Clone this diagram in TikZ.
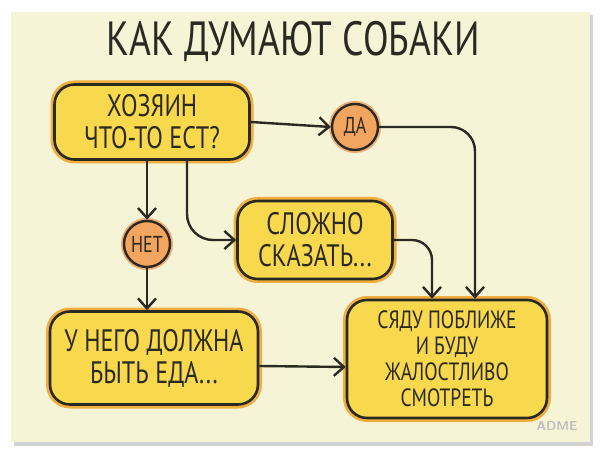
\documentclass[tikz,border=0pt]{standalone}
\usepackage{fontspec}
\newfontfamily\hand[FakeStretch=0.78]{PT Sans}
\usetikzlibrary{arrows.meta}

\definecolor{paper}{HTML}{F6F4D6}
\definecolor{ink}{HTML}{2B2A22}
\definecolor{boxfill}{HTML}{F8D84C}
\definecolor{boxglow}{HTML}{F0AE3E}
\definecolor{ballfill}{HTML}{F2A55E}
\definecolor{ballglow}{HTML}{E8863C}

\tikzstyle{box} = [draw=ink, line width=2.6pt, rounded corners=20pt, fill=boxfill,
	preaction={draw=boxglow, line width=8pt}, align=center, font=\hand\fontsize{31}{32}\selectfont, text=ink]
\tikzstyle{ball} = [circle, draw=ink, line width=2.4pt, fill=ballfill, minimum size=46pt, inner sep=0pt,
	preaction={draw=ballglow!70, line width=6pt}, font=\hand\fontsize{23}{23}\selectfont, text=ink]
\tikzstyle{arrow} = [draw=ink, line width=2.4pt, -{Straight Barb[length=10pt, width=18pt, line width=2.4pt]}]

\begin{document}
\begin{tikzpicture}[x=1pt, y=-1pt]
	\useasboundingbox (0,0) rectangle (600,457);
	\fill[white] (0,0) rectangle (600,457);
	\fill[black!18] (14,15) rectangle (593,446);
	\fill[paper] (11,12) rectangle (590,442);

	\node[font=\hand\fontsize{48}{48}\selectfont, text=ink] (t) at (293,42) {КАК ДУМАЮТ СОБАКИ};

	\node[box, minimum width=195pt, minimum height=75pt] (n1) at (152,122) {ХОЗЯИН\\ЧТО-ТО ЕСТ?};
	\node[ball] (n2) at (355,127) {ДА};
	\node[ball] (n3) at (147,244) {НЕТ};
	\node[box, minimum width=155pt, minimum height=78pt] (n4) at (315,240) {СЛОЖНО\\СКАЗАТЬ...};
	\node[box, minimum width=208pt, minimum height=93pt] (n5) at (154,358) {У НЕГО ДОЛЖНА\\БЫТЬ ЕДА...};
	\node[box, minimum width=200pt, minimum height=118pt, font=\hand\fontsize{25}{26}\selectfont] (n6) at (447,359) {СЯДУ ПОБЛИЖЕ\\И БУДУ\\ЖАЛОСТЛИВО\\СМОТРЕТЬ};

	\node[font=\sffamily\bfseries\fontsize{13}{13}\selectfont, text=black!25] (w) at (557,426) {ADME};

	\draw[arrow] (n1.east) -- (n2.west);
	\draw[arrow, rounded corners=24pt] (n2.east) -| ([xshift=28pt]n6.north);
	\draw[arrow] (n1.south -| n3.north) -- (n3.north);
	\draw[arrow, rounded corners=26pt] ([xshift=35pt]n1.south) |- (n4.west);
	\draw[arrow] (n3.south) -- (n5.north -| n3.south);
	\draw[arrow, rounded corners=20pt] (n4.east) -| ([xshift=-15pt]n6.north);
	\draw[arrow] ([yshift=-8pt]n5.east) -- ([yshift=-8pt]n6.west);
\end{tikzpicture}
\end{document}
